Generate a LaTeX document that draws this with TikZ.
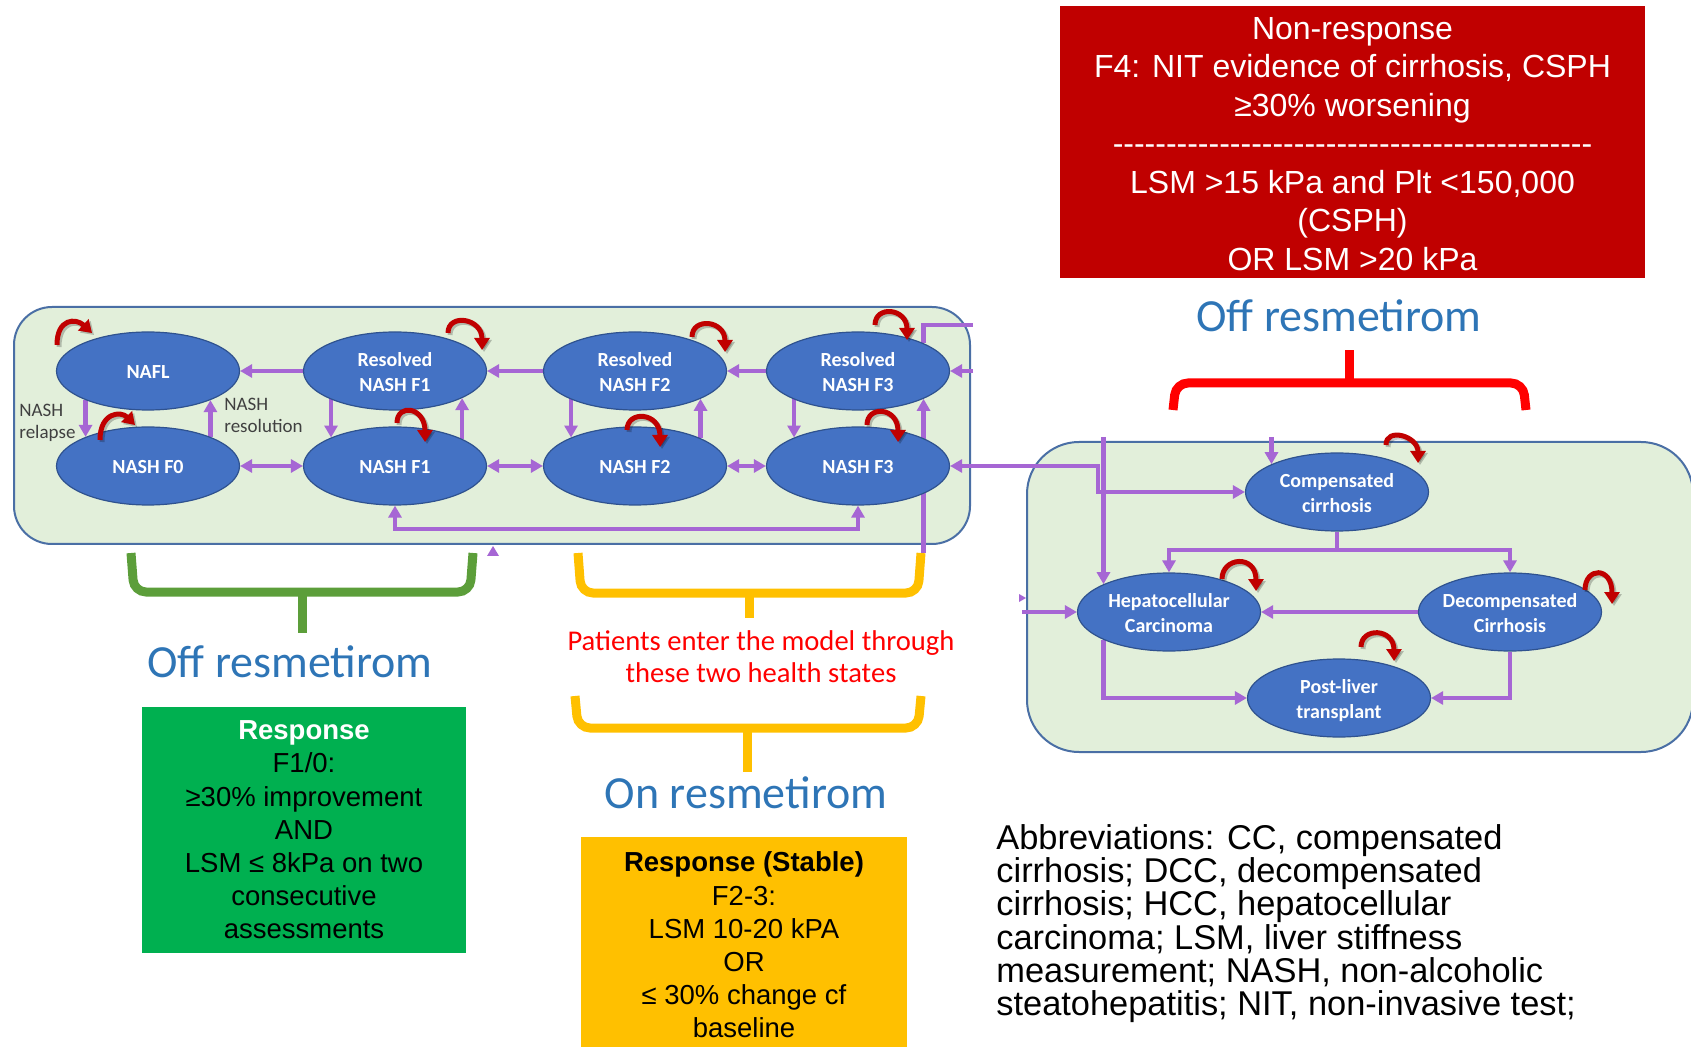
\documentclass[tikz,border=0pt]{standalone}
\usepackage{fontspec}
\setmainfont{Liberation Sans}
\newfontfamily\calibri{Carlito}
\usetikzlibrary{shapes.geometric,arrows.meta,calc}
\definecolor{ellfill}{HTML}{4472C4}
\definecolor{elldraw}{HTML}{2F528F}
\definecolor{panelfill}{HTML}{E2EFDA}
\definecolor{panelborder}{HTML}{4A6FA5}
\definecolor{purp}{RGB}{166,102,212}
\definecolor{loopred}{HTML}{C00000}
\definecolor{redbox}{HTML}{C00000}
\definecolor{brred}{HTML}{FF0000}
\definecolor{brgreen}{RGB}{92,158,58}
\definecolor{bryellow}{HTML}{FFC000}
\definecolor{greenbox}{HTML}{00B050}
\definecolor{bluetext}{HTML}{2E75B6}
\definecolor{labelgray}{HTML}{404040}
\pgfdeclarelayer{back}
\pgfdeclarelayer{mid}
\pgfdeclarelayer{front}
\pgfsetlayers{back,mid,main,front}
\newcommand\eltext[1]{\makebox[0pt]{\raisebox{-1.5pt}[\height][\depth]{\begin{tabular}{@{}c@{}}#1\end{tabular}}}}
\newcommand\eltwo[2]{\makebox[0pt]{\raisebox{-1.5pt}[\height][\depth]{\begin{tabular}{@{}c@{}}#1\tabularnewline #2\end{tabular}}}}
\newcommand\hyph{\mbox{-}}
\newcommand\hyphten{\hyph\hyph\hyph\hyph\hyph\hyph\hyph\hyph\hyph\hyph}
\newcommand\fstrut{\rule{0pt}{1em}}
\newcommand\abbrfont{\fontsize{17.2}{16.6}\selectfont}
\tikzset{
  state/.style={ellipse, fill=ellfill, draw=elldraw, line width=0.6pt,
    minimum width=91.5pt, minimum height=39pt, inner sep=0pt, text=white,
    font=\calibri\bfseries\fontsize{10}{12.5}\selectfont},
  panelsty/.style={fill=panelfill, draw=panelborder, line width=1pt, rounded corners=19pt},
  pa/.style={draw=purp, line width=2.2pt},
  ar/.style={pa, -{Triangle[length=6pt,width=6.5pt]}},
  dar/.style={pa, {Triangle[length=6pt,width=6.5pt]}-{Triangle[length=6pt,width=6.5pt]}},
  lp/.style={draw=loopred, line width=2.5pt, -{Triangle[length=6pt,width=7.5pt]}},
  lpsh/.style={draw=black, opacity=0.22, line width=2.5pt, -{Triangle[length=6pt,width=7.5pt]}},
  brace/.style={line width=4.5pt, rounded corners=6pt},
  bluelab/.style={text=bluetext, inner sep=0pt, font=\calibri\fontsize{23}{27.6}\selectfont},
  graylab/.style={text=labelgray, inner sep=0pt, align=left, anchor=north west,
    font=\calibri\fontsize{9.5}{11}\selectfont},
  infobox/.style={inner sep=0pt, align=center, font=\fontsize{13.75}{16.6}\selectfont}
}
\newcommand\sloop[5]{%
  \draw[lpsh] ($(#1)+(#2)+(2,2)$) .. controls +(0,-#4) and +(0,-#5) .. ($(#1)+(#3)+(2,2)$);
  \draw[lp] ($(#1)+(#2)$) .. controls +(0,-#4) and +(0,-#5) .. ($(#1)+(#3)$);}
\newcommand\sloopr[5]{%
  \draw[lpsh] ($(#1)+(#2)+(2,2)$) .. controls +(0,-#4) and +(#5) .. ($(#1)+(#3)+(2,2)$);
  \draw[lp] ($(#1)+(#2)$) .. controls +(0,-#4) and +(#5) .. ($(#1)+(#3)$);}
\begin{document}
\begin{tikzpicture}[x=0.5pt,y=-0.5pt]
\useasboundingbox (0,0) rectangle (1691,1047);

% panels
\begin{pgfonlayer}{back}
  \draw[panelsty] (14,307) rectangle (970,544);
  \draw[panelsty, rounded corners=26pt] (1027,442) rectangle (1693,752);
\end{pgfonlayer}

% states
\node[state] (nafl) at (148,371) {\eltext{NAFL}};
\node[state] (f0)   at (148,466) {\eltext{NASH F0}};
\node[state] (rf1)  at (395,371) {\eltwo{Resolved}{NASH F1}};
\node[state] (f1)   at (395,466) {\eltext{NASH F1}};
\node[state] (rf2)  at (635,371) {\eltwo{Resolved}{NASH F2}};
\node[state] (f2)   at (635,466) {\eltext{NASH F2}};
\node[state] (rf3)  at (858,371) {\eltwo{Resolved}{NASH F3}};
\node[state] (f3)   at (858,466) {\eltext{NASH F3}};
\node[state] (cc)   at (1337,492) {\eltwo{Compensated}{cirrhosis}};
\node[state] (hcc)  at (1169,612) {\eltwo{Hepatocellular}{Carcinoma}};
\node[state] (dcc)  at (1510,612) {\eltwo{Decompensated}{Cirrhosis}};
\node[state] (plt)  at (1339,698) {\eltwo{Post-liver}{transplant}};

% connector helper coordinates
\coordinate (yb)   at (0,553);
\coordinate (tr1)  at (973,325);
\coordinate (tr2)  at (973,371);
\coordinate (bot)  at (600,529);
\coordinate (kink) at (1098,466);
\coordinate (topin) at (0,437);
\coordinate (ccb)  at (1337,550);
\coordinate (hin)  at (1022,612);

\begin{pgfonlayer}{mid}
  \draw[ar] (rf1.west) -- (nafl.east);
  \draw[ar] (nafl.205) -- (f0.155);
  \draw[ar] (f0.25) -- (nafl.335);
  \draw[dar] (f0.east) -- (f1.west);
  \draw[ar] (rf1.204) -- (f1.156);
  \draw[ar] (f1.22) -- (rf1.338);
  \draw[ar] (rf2.west) -- (rf1.east);
  \draw[dar] (f1.east) -- (f2.west);
  \draw[ar] (rf2.204) -- (f2.156);
  \draw[ar] (f2.23) -- (rf2.337);
  \draw[ar] (rf3.west) -- (rf2.east);
  \draw[dar] (f2.east) -- (f3.west);
  \draw[ar] (rf3.204) -- (f3.156);
  \draw[ar] (rf3.337 |- yb) -- (rf3.337);
  \draw[pa] (tr1) -| (rf3.23);
  \draw[ar] (tr2) -- (rf3.east);
  \draw[dar] (f1.south) |- (bot) -| (f3.south);
  \draw[dar] (f3.east) -- (kink) |- (cc.west);
  \draw[ar] (cc.157 |- topin) -- (cc.157);
  \draw[ar] (hcc.157 |- topin) -- (hcc.157);
  \draw[pa] (cc.south) -- (ccb);
  \draw[ar] (ccb) -| (hcc.north);
  \draw[ar] (ccb) -| (dcc.north);
  \draw[ar] (dcc.west) -- (hcc.east);
  \draw[ar] (hcc.203) |- (plt.west);
  \draw[ar] (dcc.south) |- (plt.east);
  \draw[ar] (hin) -- (hcc.west);
  \fill[purp] (487,556) -- (499,556) -- (493,546) -- cycle;
  \fill[purp] (1019,594) -- (1019,602) -- (1026,598) -- cycle;
\end{pgfonlayer}

% self loops
\begin{pgfonlayer}{front}
  \sloopr{nafl}{-91,-26}{-56,-38}{27}{-16,-15}
  \sloopr{f0}{-48,-26}{-13,-41}{28}{-14,-14}
  \sloop{rf1}{53,-38}{87,-21}{20}{32}
  \sloop{f1}{2,-43}{30,-24}{20}{35}
  \sloop{rf2}{57,-34}{90,-19}{20}{32}
  \sloop{f2}{-8,-36}{25,-19}{20}{35}
  \sloop{rf3}{17,-46}{49,-31}{20}{32}
  \sloop{f3}{9,-41}{40,-24}{20}{35}
  \sloop{cc}{49,-47}{81,-29}{18}{27}
  \sloop{hcc}{53,-33}{87,-21}{22}{37}
  \sloop{dcc}{75,-22}{102,-8}{23}{38}
  \sloop{plt}{22,-51}{55,-37}{20}{33}
\end{pgfonlayer}

% transition labels
\node[graylab] (relapse) at (19,397) {\fstrut NASH\\relapse};
\node[graylab] (resol) at (224,391) {\fstrut NASH\\resolution};

% brackets
\draw[brace, draw=brred] (1173,410) -- (1176,383) -- (1523,383) -- (1526,410);
\draw[line width=4.5pt, draw=brred] (1349,385) -- (1349,350);
\draw[brace, draw=brgreen] (131,553) -- (134,592) -- (470,592) -- (473,553);
\draw[line width=4.5pt, draw=brgreen] (302,590) -- (302,633);
\draw[brace, draw=bryellow] (578,553) -- (581,593) -- (918,593) -- (921,553);
\draw[line width=4.5pt, draw=bryellow] (749,591) -- (749,618);
\draw[brace, draw=bryellow] (575,696) -- (578,728) -- (918,728) -- (921,696);
\draw[line width=4.5pt, draw=bryellow] (747,726) -- (747,772);

% headings
\node[bluelab, anchor=base] (offtop) at (1339,332) {Off resmetirom};
\node[bluelab, anchor=base] (offleft) at (290,677) {Off resmetirom};
\node[bluelab, anchor=base] (onres) at (746,808) {On resmetirom};
\node[inner sep=0pt, anchor=north, align=center, text=brred,
      font=\calibri\fontsize{14.3}{16}\selectfont] (enter) at (761,621.4)
      {\fstrut Patients enter the model through\\these two health states};

% criteria boxes
\node[inner sep=0pt, align=center, fill=redbox, text=white,
      minimum width=292.5pt, minimum height=136pt,
      font=\fontsize{16}{19.25}\selectfont] (nonresp) at (1352.5,142)
  {\rule{0pt}{0.8em}Non-response\\F4: NIT evidence of cirrhosis, CSPH\\≥30\% worsening\\
   \hyphten\hyphten\hyphten\hyphten\hyph\hyph\hyph\hyph\hyph\\
   LSM >15 kPa and Plt <150,000\\(CSPH)\\OR LSM >20 kPa};
\node[infobox, fill=greenbox, minimum width=162pt, minimum height=123pt] (resp) at (304,830)
  {\textcolor{white}{\bfseries Response}\\F1/0:\\≥30\% improvement\\AND\\LSM ≤ 8kPa on two\\consecutive\\assessments};
\node[infobox, fill=bryellow, minimum width=163pt, minimum height=108pt] (stable) at (744,945)
  {\bfseries Response (Stable)\\F2-3:\\LSM 10-20 kPA\\OR\\≤ 30\% change cf\\baseline};

% abbreviations
{\setlength{\lineskiplimit}{-20pt}%
\node[inner sep=0pt, anchor=north west, align=left, font=\abbrfont] (abbr) at (996,814.6)
  {\fstrut Abbreviations: CC, compensated\\cirrhosis; DCC, decompensated\\cirrhosis; HCC, hepatocellular\\carcinoma; LSM, liver stiffness\\measurement; NASH, non-alcoholic\\steatohepatitis; NIT, non-invasive test;};
}
\end{tikzpicture}
\end{document}
